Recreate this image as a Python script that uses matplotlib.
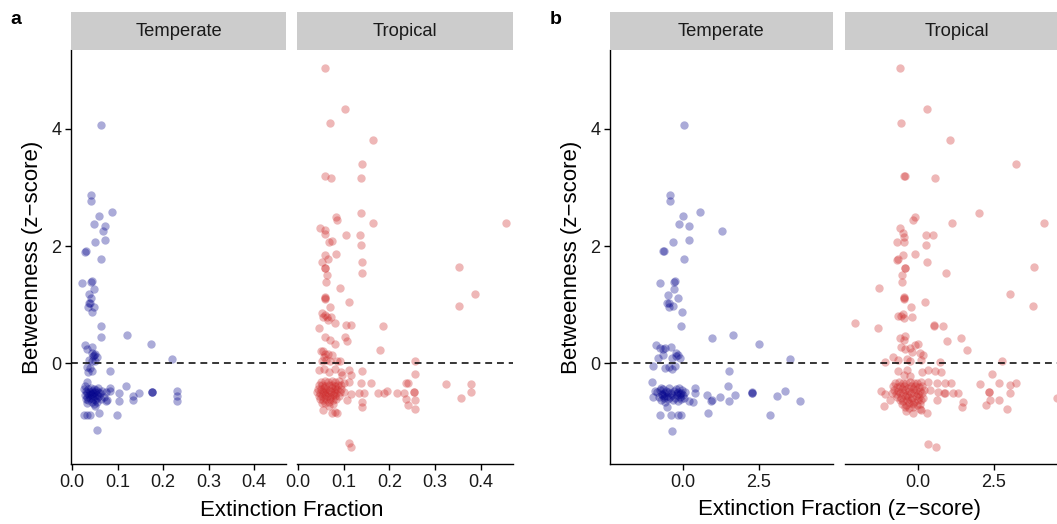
import matplotlib
matplotlib.use("Agg")
import matplotlib.pyplot as plt
from matplotlib.patches import Rectangle

# ---------------- data ----------------
facet_labels = ["Temperate", "Tropical"]
panel_labels = ["a", "b"]
xlabel_a = "Extinction Fraction"
xlabel_b = "Extinction Fraction (z\u2212score)"
ylabel = "Betweenness (z\u2212score)"
yticks = [0, 2, 4]
xticks_a = [0.0, 0.1, 0.2, 0.3, 0.4]
xticklabels_a = ["0.0", "0.1", "0.2", "0.3", "0.4"]
xticks_b = [0.0, 2.5]
xticklabels_b = ["0.0", "2.5"]

# Panel a, Temperate
a_temp_x = [0.063, 0.041, 0.041, 0.089, 0.060, 0.048, 0.073, 0.069, 0.050, 0.073,
            0.028, 0.030, 0.063, 0.023, 0.042, 0.044, 0.048, 0.037, 0.042, 0.037,
            0.040, 0.036, 0.048, 0.043, 0.063, 0.063, 0.121, 0.173, 0.219,
            0.029, 0.032, 0.045, 0.043, 0.047, 0.051, 0.054, 0.049, 0.037, 0.044,
            0.050, 0.033, 0.040, 0.036, 0.045, 0.084, 0.032,
            0.026, 0.028, 0.030, 0.031, 0.033, 0.034, 0.036, 0.036, 0.038, 0.039,
            0.040, 0.041, 0.042, 0.043, 0.044, 0.045, 0.046, 0.047, 0.048, 0.049,
            0.050, 0.051, 0.052, 0.054, 0.055, 0.057, 0.058, 0.060, 0.062, 0.064,
            0.066, 0.070, 0.074, 0.078, 0.028, 0.034, 0.048, 0.056,
            0.084, 0.084, 0.075, 0.118, 0.104, 0.104, 0.134, 0.134, 0.148, 0.175,
            0.175, 0.175, 0.231, 0.231, 0.231, 0.027, 0.033, 0.040, 0.060, 0.099,
            0.055, 0.050]
a_temp_y = [4.07, 2.88, 2.77, 2.58, 2.51, 2.37, 2.34, 2.25, 2.07, 2.10,
            1.90, 1.91, 1.78, 1.36, 1.39, 1.40, 1.27, 1.18, 1.11, 1.03,
            1.02, 0.96, 0.96, 0.87, 0.63, 0.44, 0.48, 0.32, 0.07,
            0.31, 0.24, 0.28, 0.17, 0.12, 0.15, 0.10, 0.14, 0.06, 0.04,
            0.03, -0.06, -0.09, -0.15, -0.14, -0.13, -0.32,
            -0.45, -0.55, -0.62, -0.48, -0.58, -0.52, -0.44, -0.64, -0.55, -0.49,
            -0.60, -0.42, -0.53, -0.66, -0.57, -0.47, -0.51, -0.61, -0.44, -0.56,
            -0.50, -0.63, -0.46, -0.54, -0.59, -0.49, -0.42, -0.57, -0.52, -0.62,
            -0.47, -0.58, -0.50, -0.63, -0.39, -0.68, -0.70, -0.66,
            -0.43, -0.48, -0.65, -0.39, -0.52, -0.65, -0.56, -0.63, -0.52, -0.50,
            -0.50, -0.50, -0.48, -0.57, -0.65, -0.89, -0.89, -0.89, -0.86, -0.89,
            -1.15, -0.74]

# Panel a, Tropical
a_trop_x = [0.058, 0.102, 0.071, 0.164, 0.140, 0.059, 0.073, 0.137, 0.138, 0.165,
            0.083, 0.085, 0.049, 0.058, 0.058, 0.105, 0.135, 0.068, 0.074, 0.137,
            0.058, 0.084, 0.066, 0.053, 0.139, 0.058, 0.060, 0.139, 0.064, 0.062,
            0.092, 0.353, 0.387, 0.353, 0.455, 0.058, 0.058, 0.058, 0.112, 0.071,
            0.053, 0.060, 0.064, 0.055, 0.066, 0.072, 0.081, 0.047, 0.104, 0.115,
            0.185, 0.059, 0.071, 0.082, 0.103, 0.108,
            0.050, 0.054, 0.060, 0.066, 0.074, 0.057, 0.062, 0.071, 0.053, 0.086,
            0.091, 0.179, 0.255,
            0.046, 0.057, 0.068, 0.081, 0.093, 0.112, 0.097, 0.115, 0.140, 0.255,
            0.050, 0.058, 0.066, 0.074, 0.082, 0.090,
            0.046, 0.053, 0.060, 0.067, 0.074, 0.081, 0.088, 0.095,
            0.044, 0.050, 0.056, 0.062, 0.068, 0.074, 0.080, 0.086, 0.094,
            0.042, 0.048, 0.054, 0.060, 0.066, 0.072, 0.078, 0.084, 0.092, 0.100,
            0.046, 0.052, 0.058, 0.064, 0.070, 0.076, 0.082, 0.090,
            0.048, 0.055, 0.062, 0.069, 0.076, 0.084,
            0.052, 0.060, 0.068, 0.076,
            0.101, 0.112, 0.137, 0.115, 0.134, 0.145, 0.140, 0.140, 0.159, 0.108,
            0.176, 0.189, 0.194, 0.216, 0.232, 0.236, 0.241, 0.253, 0.253, 0.236,
            0.240, 0.255, 0.255, 0.324, 0.356, 0.378, 0.378,
            0.112, 0.115, 0.055, 0.068, 0.075, 0.082, 0.085]
a_trop_y = [5.04, 4.35, 4.10, 3.82, 3.40, 3.20, 3.17, 3.16, 2.56, 2.39,
            2.49, 2.44, 2.31, 2.27, 2.20, 2.18, 2.19, 2.06, 2.09, 2.02,
            1.85, 1.87, 1.78, 1.72, 1.73, 1.62, 1.63, 1.53, 1.50, 1.39,
            1.29, 1.64, 1.18, 0.98, 2.40, 1.11, 1.12, 1.10, 1.05, 0.95,
            0.85, 0.82, 0.79, 0.78, 0.74, 0.79, 0.69, 0.59, 0.65, 0.65,
            0.63, 0.45, 0.40, 0.33, 0.44, 0.38,
            0.21, 0.20, 0.15, 0.16, 0.14, 0.10, 0.06, 0.04, 0.04, 0.04,
            0.03, 0.23, 0.04,
            -0.12, -0.11, -0.16, -0.10, -0.16, -0.12, -0.21, -0.20, -0.14, -0.19,
            -0.32, -0.31, -0.33, -0.30, -0.32, -0.31,
            -0.38, -0.37, -0.39, -0.38, -0.37, -0.39, -0.38, -0.37,
            -0.44, -0.45, -0.43, -0.44, -0.46, -0.43, -0.44, -0.45, -0.44,
            -0.50, -0.51, -0.49, -0.50, -0.52, -0.50, -0.49, -0.51, -0.50, -0.50,
            -0.56, -0.57, -0.55, -0.56, -0.58, -0.55, -0.56, -0.57,
            -0.62, -0.63, -0.61, -0.62, -0.64, -0.62,
            -0.68, -0.69, -0.67, -0.70,
            -0.34, -0.32, -0.34, -0.53, -0.51, -0.51, -0.66, -0.76, -0.35, -0.63,
            -0.51, -0.51, -0.47, -0.51, -0.51, -0.34, -0.35, -0.49, -0.50, -0.62,
            -0.72, -0.63, -0.79, -0.36, -0.60, -0.36, -0.50,
            -1.37, -1.43, -0.80, -0.73, -0.86, -0.84, -0.86]

# Panel b, Temperate
b_temp_x = [0.03, -0.44, -0.42, 0.55, -0.01, -0.13, 0.19, 1.27, -0.34, 0.20,
            -0.66, -0.62, 0.04, -0.75, -0.30, -0.27, -0.30, -0.48, -0.16, -0.51,
            -0.46, -0.45, -0.32, -0.04, -0.06, 0.94, 1.63, 2.51, 3.51,
            -0.89, -0.75, -0.65, -0.59, -0.39, -0.22, -0.18, -0.24, -0.81, -0.65,
            -0.37, -0.10, -0.98, -0.59, -0.37, -0.45, -0.26, 1.52, -1.03, -0.72,
            -0.85, -0.80, -0.76, -0.72, -0.70, -0.66, -0.64, -0.61, -0.58, -0.56,
            -0.53, -0.50, -0.48, -0.45, -0.42, -0.40, -0.68, -0.62,
            -0.30, -0.27, -0.24, -0.21, -0.18, -0.16, -0.13, -0.11, -0.08, -0.05,
            -0.03, 0.00, 0.03, 0.06, -0.20, -0.10, -0.35, -0.33,
            0.39, 0.39, 0.21, 0.34, 0.80, 0.92, 0.95, 1.21, 1.48, 1.52,
            1.72, 2.27, 2.27, 2.27, 3.10, 3.37, 3.84, -0.75, -0.39, -0.17,
            -0.08, 0.82, 2.86, -0.36, -0.54, -0.98, -0.92]
b_temp_y = [4.07, 2.88, 2.77, 2.58, 2.51, 2.37, 2.34, 2.25, 2.07, 2.10,
            1.91, 1.92, 1.78, 1.36, 1.39, 1.40, 1.27, 1.17, 1.11, 1.03,
            1.02, 0.96, 0.97, 0.87, 0.63, 0.43, 0.48, 0.32, 0.07,
            0.30, 0.25, 0.24, 0.26, 0.27, 0.17, 0.14, 0.12, 0.08, 0.14,
            0.08, 0.08, -0.05, -0.09, -0.11, -0.06, -0.05, -0.13, -0.32, -0.42,
            -0.50, -0.58, -0.46, -0.63, -0.53, -0.44, -0.60, -0.51, -0.66, -0.47,
            -0.56, -0.62, -0.50, -0.43, -0.58, -0.52, -0.55, -0.57,
            -0.48, -0.60, -0.44, -0.55, -0.65, -0.50, -0.43, -0.58, -0.52, -0.62,
            -0.46, -0.55, -0.60, -0.50, -0.52, -0.53, -0.55, -0.63,
            -0.43, -0.51, -0.65, -0.66, -0.54, -0.65, -0.63, -0.58, -0.39, -0.65,
            -0.54, -0.51, -0.50, -0.52, -0.56, -0.48, -0.65, -0.89, -0.89, -0.89,
            -0.89, -0.85, -0.89, -1.16, -0.75, -0.58, -0.47]

# Panel b, Tropical
b_trop_x = [-0.58, 0.29, -0.56, 1.06, 3.23, -0.45, -0.43, 0.55, 2.02, 4.14,
            -0.10, -0.17, 1.11, -0.59, -0.48, -0.45, 0.25, 0.49, -0.70, -0.45,
            0.27, -0.09, -0.50, -0.69, -0.66, 0.30, -0.44, -0.42, 0.93, -0.52,
            -0.52, -1.29, 3.83, 3.03, 3.79, -0.47, -0.47, -0.46, 0.23, -0.24,
            -0.65, -0.48, -0.45, -0.21, -0.56, -2.07, -1.33, 0.52, 0.53, 0.81,
            1.41, 0.94, -0.59, -0.45,
            -0.43, -0.56, -0.43, -0.26, -0.10, -0.01, -0.21, 0.07, 0.15, 1.60,
            -0.81, -1.09, 0.72, 2.77, -0.65, -0.37, -0.25, 0.10,
            -0.65, -0.37, 0.12, 0.34, 0.56, 0.76, 2.42, -0.45, -0.25,
            -0.75, -0.62, -0.50, -0.38, -0.26, -0.14, -0.02, 0.10,
            -0.82, -0.70, -0.58, -0.46, -0.34, -0.22, -0.10, 0.02, 0.14,
            -0.78, -0.66, -0.54, -0.42, -0.30, -0.18, -0.06, 0.06, 0.20,
            -0.85, -0.72, -0.60, -0.48, -0.36, -0.24, -0.12, 0.00, 0.12,
            -0.68, -0.56, -0.44, -0.32, -0.20, -0.08, 0.04, 0.16,
            -0.60, -0.48, -0.36, -0.24, -0.12, 0.00, 0.10,
            -0.52, -0.40, -0.28, -0.16, -0.04, 0.08,
            -0.42, -0.30, -0.18, 0.05,
            0.34, 0.61, 0.89, 1.09, 0.39, 0.65, 0.87, 0.88, 1.16, 1.33,
            0.61, 1.49, 1.44, 2.04, 2.66, 2.34, 2.35, 3.03, 3.21, 3.03,
            2.37, 2.66, 2.23, 2.94, 4.57, -1.22, -1.09, -0.92, -1.13,
            -0.40, -0.15, 0.10, 0.30, 0.32, 0.58]
b_trop_y = [5.04, 4.35, 4.10, 3.82, 3.40, 3.19, 3.20, 3.16, 2.56, 2.39,
            2.49, 2.44, 2.39, 2.31, 2.23, 2.16, 2.19, 2.18, 2.06, 2.07,
            2.02, 1.87, 1.85, 1.76, 1.77, 1.73, 1.62, 1.63, 1.53, 1.50,
            1.39, 1.29, 1.64, 1.18, 0.98, 1.11, 1.12, 1.10, 1.05, 0.95,
            0.81, 0.84, 0.77, 0.78, 0.80, 0.69, 0.59, 0.64, 0.65, 0.63,
            0.43, 0.38, 0.42, 0.40,
            0.46, 0.28, 0.24, 0.25, 0.30, 0.32, 0.18, 0.17, 0.14, 0.23,
            0.10, 0.02, 0.01, 0.04, 0.05, 0.07, 0.03, 0.05,
            -0.13, -0.12, -0.15, -0.12, -0.14, -0.16, -0.19, -0.20, -0.22,
            -0.34, -0.33, -0.35, -0.34, -0.33, -0.35, -0.34, -0.33,
            -0.40, -0.41, -0.39, -0.40, -0.42, -0.39, -0.40, -0.41, -0.40,
            -0.46, -0.47, -0.45, -0.46, -0.48, -0.45, -0.46, -0.47, -0.46,
            -0.52, -0.53, -0.51, -0.52, -0.54, -0.52, -0.51, -0.53, -0.52,
            -0.58, -0.59, -0.57, -0.58, -0.60, -0.57, -0.58, -0.59,
            -0.64, -0.65, -0.63, -0.64, -0.66, -0.64, -0.63,
            -0.70, -0.71, -0.69, -0.70, -0.72, -0.70,
            -0.76, -0.77, -0.75, -0.78,
            -0.33, -0.34, -0.34, -0.35, -0.46, -0.49, -0.52, -0.51, -0.51, -0.52,
            -0.63, -0.66, -0.76, -0.36, -0.35, -0.49, -0.50, -0.38, -0.35, -0.52,
            -0.63, -0.63, -0.72, -0.79, -0.60, -0.48, -0.53, -0.63, -0.74,
            -0.82, -0.85, -0.80, -0.86, -1.38, -1.44]

# ---------------- styling / layout ----------------
plt.rcParams['font.family'] = ['Liberation Sans', 'DejaVu Sans']
W, H = 1057, 524
fig = plt.figure(figsize=(W / 100, H / 100), dpi=100)
fig.patch.set_facecolor('white')

TEMP_COLOR = '#00008B'
TROP_COLOR = '#CD2626'
ALPHA = 0.33
SIZE = 36
YLIM = (-1.726, 5.35)
XLIM_A = (-0.0022, 0.4703)
XLIM_B = (-2.401, 4.934)


def add_ax(l, t, r, b):
    return fig.add_axes([l / W, 1 - b / H, (r - l) / W, (b - t) / H])


def strip(l, r, label):
    fig.add_artist(Rectangle((l / W, 1 - 50 / H), (r - l) / W, 38 / H,
                             transform=fig.transFigure, facecolor='#CCCCCC',
                             edgecolor='none'))
    fig.text((l + r) / 2 / W, 1 - 31.5 / H, label, ha='center', va='center',
             fontsize=13.2, color='#1A1A1A')


def facet(l, r, x, y, color, xlim, xt, xtl, show_y):
    ax = add_ax(l, 50, r, 464)
    ax.scatter(x, y, s=SIZE, c=color, alpha=ALPHA, linewidths=0, zorder=2)
    ax.axhline(0, color='black', lw=1.1, ls=(0, (4.5, 3.2)), zorder=3)
    ax.set_xlim(xlim)
    ax.set_ylim(YLIM)
    ax.set_xticks(xt)
    ax.set_xticklabels(xtl)
    for s in ['top', 'right']:
        ax.spines[s].set_visible(False)
    ax.spines['bottom'].set_linewidth(1.0)
    ax.spines['left'].set_linewidth(1.0)
    ax.tick_params(axis='both', direction='out', length=4, width=1.0,
                   labelsize=13, pad=3, colors='black')
    ax.tick_params(axis='x', labelcolor='#1A1A1A')
    if show_y:
        ax.set_yticks(yticks)
        ax.set_yticklabels([str(v) for v in yticks], color='#1A1A1A')
    else:
        ax.spines['left'].set_visible(False)
        ax.tick_params(axis='y', left=False, labelleft=False)
    ax.set_facecolor('none')
    return ax


# Panel a
facet(71, 286, a_temp_x, a_temp_y, TEMP_COLOR, XLIM_A, xticks_a, xticklabels_a, True)
facet(297, 513, a_trop_x, a_trop_y, TROP_COLOR, XLIM_A, xticks_a, xticklabels_a, False)
strip(71, 286, facet_labels[0])
strip(297, 513, facet_labels[1])

# Panel b
facet(610, 833, b_temp_x, b_temp_y, TEMP_COLOR, XLIM_B, xticks_b, xticklabels_b, True)
facet(845, 1068, b_trop_x, b_trop_y, TROP_COLOR, XLIM_B, xticks_b, xticklabels_b, False)
strip(610, 833, facet_labels[0])
strip(845, 1068, facet_labels[1])

# Axis titles
fig.text(33 / W, 1 - 257 / H, ylabel, rotation=90, ha='center', va='center', fontsize=16)
fig.text(571 / W, 1 - 257 / H, ylabel, rotation=90, ha='center', va='center', fontsize=16)
fig.text(292 / W, 1 - 510 / H, xlabel_a, ha='center', va='center', fontsize=16)
fig.text(839 / W, 1 - 510 / H, xlabel_b, ha='center', va='center', fontsize=16)

# Panel tags
fig.text(16 / W, 1 - 19 / H, panel_labels[0], ha='center', va='center', fontsize=14, fontweight='bold')
fig.text(556 / W, 1 - 19 / H, panel_labels[1], ha='center', va='center', fontsize=14, fontweight='bold')

fig.savefig('out.png', dpi=100)
